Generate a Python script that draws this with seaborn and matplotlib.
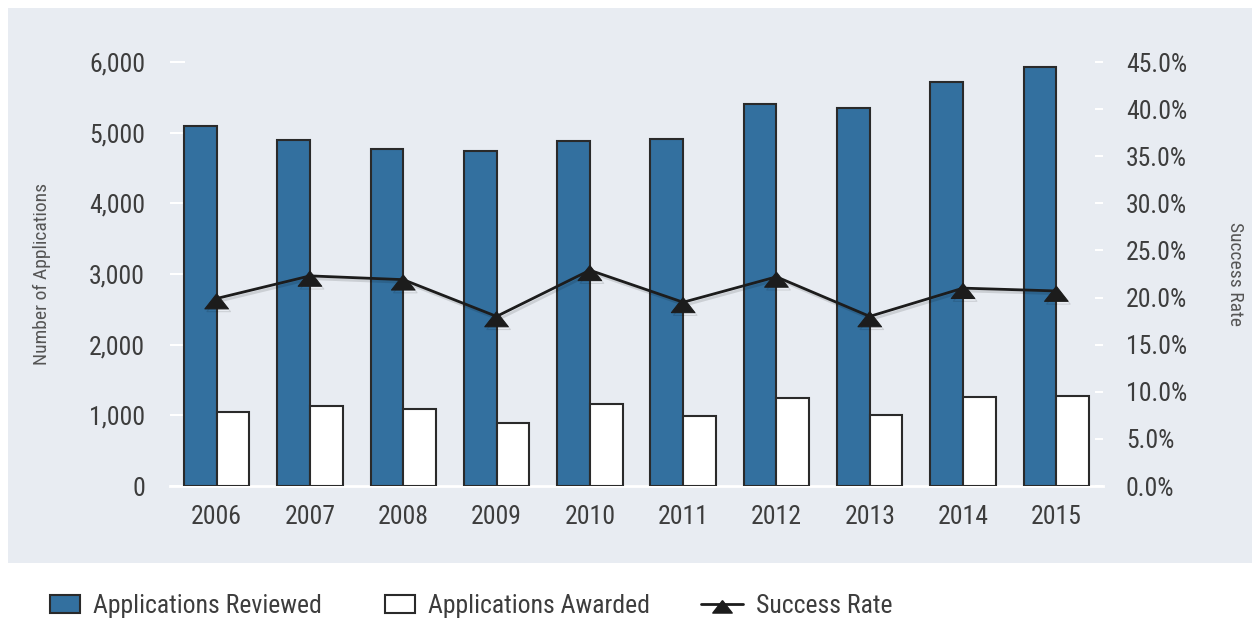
import numpy as np
import pandas as pd
import seaborn as sns
import matplotlib.pyplot as plt
import matplotlib.patheffects as pe
from matplotlib.patches import Rectangle, Patch
from matplotlib.lines import Line2D
from matplotlib.legend_handler import HandlerLine2D
from matplotlib.ticker import FuncFormatter

# Applications per year and the resulting success rate
years = ["2006", "2007", "2008", "2009", "2010", "2011", "2012", "2013", "2014", "2015"]
reviewed = [5090, 4890, 4770, 4740, 4880, 4910, 5400, 5350, 5720, 5925]
awarded = [1047, 1128, 1095, 887, 1160, 991, 1245, 1010, 1255, 1269]
success_rate = [19.9, 22.3, 21.9, 18.0, 22.9, 19.5, 22.2, 18.0, 21.0, 20.7]

series_names = ["Applications Reviewed", "Applications Awarded"]
rate_name = "Success Rate"
left_ticks = [0, 1000, 2000, 3000, 4000, 5000, 6000]
right_ticks = [0, 5, 10, 15, 20, 25, 30, 35, 40, 45]

BLUE = "#33709f"
EDGE = "#2a2a2a"
LINE = "#1c1c1c"
PANEL = "#e8ecf2"
TEXT = "#3d3d3d"

sns.set_theme(style="white")
plt.rcParams["font.family"] = ["Liberation Sans Narrow", "Roboto Condensed", "DejaVu Sans"]

W, H = 1257, 621
fig = plt.figure(figsize=(W / 100, H / 100), dpi=100, facecolor="white")

# light background panel behind the plot area
fig.add_artist(Rectangle((8 / W, 58 / H), (1252 - 8) / W, (563 - 8) / H,
                         transform=fig.transFigure, facecolor=PANEL,
                         edgecolor="none", zorder=0))

ax = fig.add_axes([170 / W, (H - 486) / H, (1103 - 170) / W, (486 - 62) / H])
ax.patch.set_alpha(0)

df = pd.DataFrame({
    "Year": years * 2,
    "Series": [series_names[0]] * len(years) + [series_names[1]] * len(years),
    "Count": reviewed + awarded,
})
sns.barplot(data=df, x="Year", y="Count", hue="Series", hue_order=series_names,
            palette={series_names[0]: BLUE, series_names[1]: "white"},
            width=0.7, edgecolor=EDGE, linewidth=1.5, saturation=1,
            legend=False, ax=ax, zorder=2)

ax.set_ylim(0, 6000)
ax.set_yticks(left_ticks)
ax.yaxis.set_major_formatter(FuncFormatter(lambda v, p: f"{v:,.0f}"))
ax.set_xlim(-0.5, 9.5)
ax.set_xlabel("")
ax.set_ylabel("")
for s in ["top", "left", "right"]:
    ax.spines[s].set_visible(False)
ax.spines["bottom"].set_color("white")
ax.spines["bottom"].set_linewidth(2)
ax.spines["bottom"].set_zorder(0.5)
ax.tick_params(axis="y", direction="in", length=10.8, width=1.5, color="white",
               pad=18, labelsize=18.5, labelcolor=TEXT)
ax.tick_params(axis="x", length=0, pad=14, labelsize=18.5, labelcolor=TEXT)

# success-rate line on a secondary axis
ax2 = ax.twinx()
ax2.patch.set_alpha(0)
tri = [(0, 0.4), (-1, -0.88), (1, -0.88), (0, 0.4)]
shadow = [pe.SimpleLineShadow(offset=(1.5, -2), shadow_color="black", alpha=0.12),
          pe.Normal()]
sns.lineplot(x=np.arange(len(years)), y=success_rate, ax=ax2, color=LINE,
             linewidth=2, marker=tri, markersize=17, markeredgecolor=LINE,
             path_effects=shadow, zorder=5)
ax2.set_ylim(0, 45)
ax2.set_yticks(right_ticks)
ax2.yaxis.set_major_formatter(FuncFormatter(lambda v, p: f"{v:.1f}%"))
for s in ax2.spines.values():
    s.set_visible(False)
ax2.tick_params(axis="y", direction="in", length=5.8, width=1.5, color="white",
                pad=16.5, labelsize=18.5, labelcolor=TEXT)
ax2.set_xlim(-0.5, 9.5)

# axis titles
fig.text(41.5 / W, (H - 273.5) / H, "Number of Applications", rotation=90,
         ha="center", va="center", fontsize=14, color="#555555")
fig.text(1235 / W, (H - 273.5) / H, rate_name, rotation=270,
         ha="center", va="center", fontsize=14, color="#555555")


class WideLineHandler(HandlerLine2D):
    """Line handle that reaches further left than the square handles."""

    def get_xdata(self, legend, xdescent, ydescent, width, height, fontsize):
        x0 = -xdescent - 0.4 * width
        x1 = -xdescent + width
        return np.array([x0, x1]), np.array([(x0 + x1) / 2])


rate_handle = Line2D([], [], color=LINE, linewidth=2, marker=tri, markersize=14)
handles = [
    Patch(facecolor=BLUE, edgecolor=EDGE, linewidth=1.5),
    Patch(facecolor="white", edgecolor=EDGE, linewidth=1.5),
    rate_handle,
]
fig.legend(handles, series_names + [rate_name], loc="center left",
           bbox_to_anchor=(50 / W, (H - 606) / H), ncol=3, frameon=False,
           fontsize=18.5, handlelength=1.17, handleheight=0.7, handletextpad=0.5,
           columnspacing=2.45, borderpad=0, borderaxespad=0, labelcolor=TEXT,
           handler_map={rate_handle: WideLineHandler()})

fig.savefig("out.png", dpi=100, facecolor="white")
